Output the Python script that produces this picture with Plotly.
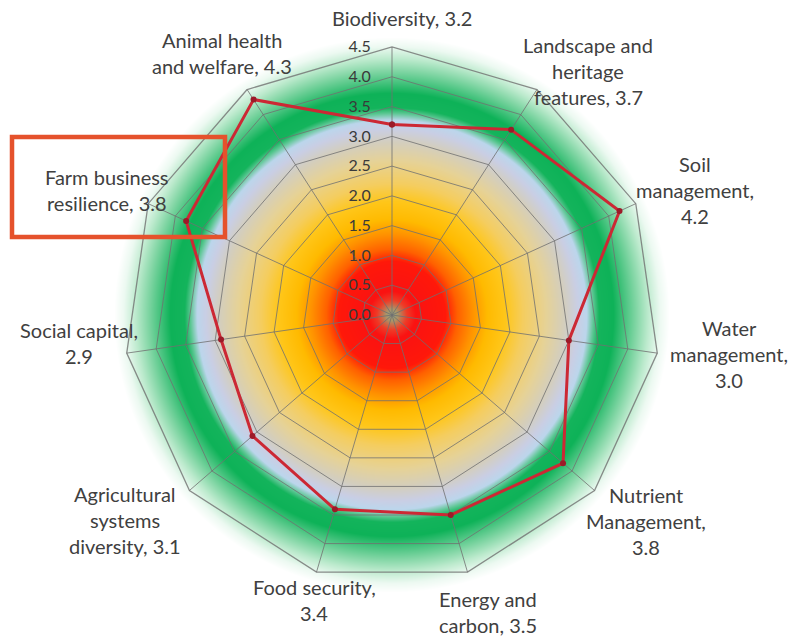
import base64
import struct
import zlib

import numpy as np
import plotly.graph_objects as go

W, H = 789, 637

# ---- data -------------------------------------------------------------
categories = [
    "Biodiversity",
    "Landscape and heritage features",
    "Soil management",
    "Water management",
    "Nutrient Management",
    "Energy and carbon",
    "Food security",
    "Agricultural systems diversity",
    "Social capital",
    "Farm business resilience",
    "Animal health and welfare",
]
scores = [3.2, 3.7, 4.2, 3.0, 3.8, 3.5, 3.4, 3.1, 2.9, 3.8, 4.3]
radial_ticks = [0.0, 0.5, 1.0, 1.5, 2.0, 2.5, 3.0, 3.5, 4.0, 4.5]

# how each category label is broken into lines ({v} = score)
label_lines = [
    ["Biodiversity, {v}"],
    ["Landscape and", "heritage", "features, {v}"],
    ["Soil", "management,", "{v}"],
    ["Water", "management,", "{v}"],
    ["Nutrient", "Management,", "{v}"],
    ["Energy and", "carbon, {v}"],
    ["Food security,", "{v}"],
    ["Agricultural", "systems", "diversity, {v}"],
    ["Social capital,", "{v}"],
    ["Farm business", "resilience, {v}"],
    ["Animal health", "and welfare, {v}"],
]

# ---- layout geometry (pixels) ----------------------------------------
CX, CY, R_PX = 392, 315, 268          # chart centre and outer radius
R_MAX = radial_ticks[-1]
label_pos = [(402, 18), (588, 45), (695, 164), (729, 328), (646, 495),
             (488, 599), (314, 587), (125, 494), (79, 330), (107, 177),
             (222, 40)]
LINE_GAP = 26
highlight_box = (12, 137, 225, 237)   # x0, y0, x1, y1 around one label

# ---- radial colour gradient behind the web ---------------------------
grad_stops = [
    (0.00, (145, 160, 130)),
    (0.10, (170, 150, 105)),
    (0.25, (238, 60, 40)),
    (0.40, (250, 18, 18)),
    (0.90, (255, 24, 10)),
    (1.10, (255, 96, 0)),
    (1.35, (255, 145, 0)),
    (1.60, (255, 186, 0)),
    (1.90, (255, 198, 25)),
    (2.20, (245, 205, 95)),
    (2.60, (230, 210, 152)),
    (2.90, (212, 206, 190)),
    (3.12, (202, 206, 228)),
    (3.27, (188, 214, 236)),
    (3.38, (95, 200, 150)),
    (3.48, (20, 180, 92)),
    (3.72, (14, 178, 88)),
    (3.90, (70, 195, 126)),
    (4.10, (130, 214, 165)),
    (4.30, (188, 234, 205)),
    (4.50, (236, 249, 241)),
    (4.66, (255, 255, 255)),
]


def gradient_png(half_px, extent):
    n = int(round(2 * half_px))
    c = (np.arange(n) + 0.5) / n * 2 * extent - extent
    xx, yy = np.meshgrid(c, c)
    rr = np.sqrt(xx ** 2 + yy ** 2)
    pos = np.array([s[0] for s in grad_stops])
    cols = np.array([s[1] for s in grad_stops], dtype=float)
    img = np.stack([np.interp(rr, pos, cols[:, k]) for k in range(3)], axis=-1)
    img = np.clip(np.round(img), 0, 255).astype(np.uint8)
    raw = b"".join(b"\x00" + img[i].tobytes() for i in range(n))

    def chunk(tag, data):
        body = tag + data
        return (struct.pack(">I", len(data)) + body
                + struct.pack(">I", zlib.crc32(body) & 0xFFFFFFFF))

    png = (b"\x89PNG\r\n\x1a\n"
           + chunk(b"IHDR", struct.pack(">IIBBBBB", n, n, 8, 2, 0, 0, 0))
           + chunk(b"IDAT", zlib.compress(raw, 9))
           + chunk(b"IEND", b""))
    return "data:image/png;base64," + base64.b64encode(png).decode()


EXTENT = 4.9
half = EXTENT / R_MAX * R_PX
bg_uri = gradient_png(half, EXTENT)

# ---- figure ------------------------------------------------------------
fig = go.Figure()
fig.add_trace(go.Scatterpolar(
    r=scores + scores[:1],
    theta=categories + categories[:1],
    mode="lines+markers",
    line=dict(color="#cc2834", width=3),
    marker=dict(color="#9c1a28", size=6),
    hoverinfo="r+theta",
    showlegend=False,
))

grid_col = "rgba(112,112,112,0.8)"
fig.update_layout(
    width=W, height=H,
    margin=dict(l=0, r=0, t=0, b=0),
    paper_bgcolor="white",
    plot_bgcolor="white",
    font=dict(family="Lato, Open Sans, sans-serif", color="#404040"),
    polar=dict(
        domain=dict(x=[(CX - R_PX) / W, (CX + R_PX) / W],
                    y=[(H - CY - R_PX) / H, (H - CY + R_PX) / H]),
        bgcolor="rgba(0,0,0,0)",
        gridshape="linear",
        angularaxis=dict(
            rotation=90, direction="clockwise",
            categoryorder="array", categoryarray=categories,
            showticklabels=False, ticks="",
            showline=True, linecolor=grid_col, linewidth=1.3,
            gridcolor=grid_col, gridwidth=1.2,
        ),
        radialaxis=dict(
            range=[0, R_MAX], tickvals=radial_ticks, tickformat=".1f",
            angle=90, tickangle=90, side="counterclockwise",
            showline=False, ticks="outside", ticklen=15,
            tickcolor="rgba(0,0,0,0)",
            gridcolor=grid_col, gridwidth=1.2,
            tickfont=dict(size=16, color="#3a3a3a", family="Lato"),
        ),
    ),
    images=[dict(
        source=bg_uri, xref="paper", yref="paper",
        x=(CX - half) / W, y=1 - (CY - half) / H,
        sizex=2 * half / W, sizey=2 * half / H,
        xanchor="left", yanchor="top", sizing="stretch", layer="below",
    )],
)

annotations = []
for lines, v, (lx, ly) in zip(label_lines, scores, label_pos):
    for i, txt in enumerate(lines):
        annotations.append(dict(
            text=txt.format(v=f"{v:.1f}"),
            x=lx / W, y=1 - (ly + i * LINE_GAP) / H,
            xref="paper", yref="paper", xanchor="center", yanchor="middle",
            showarrow=False, font=dict(size=20, color="#404040", family="Lato"),
        ))
fig.update_layout(annotations=annotations)

x0, y0, x1, y1 = highlight_box
fig.add_shape(type="rect", xref="paper", yref="paper",
              x0=x0 / W, x1=x1 / W, y0=1 - y0 / H, y1=1 - y1 / H,
              line=dict(color="#e5522c", width=4.5))

fig.write_html("out.html")
